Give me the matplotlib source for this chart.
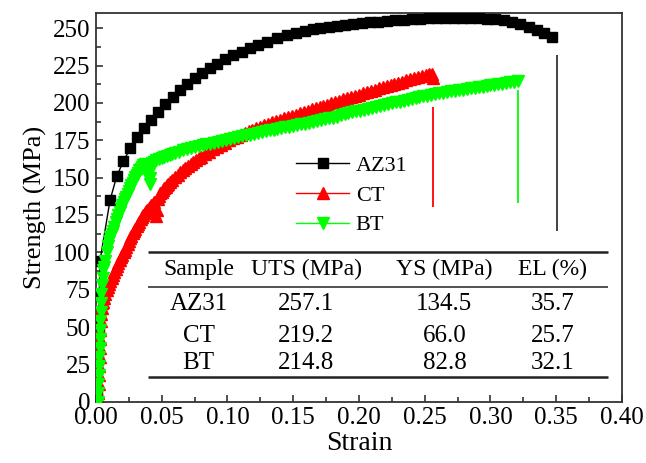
import matplotlib
matplotlib.use("Agg")
import matplotlib.pyplot as plt

plt.rcParams["font.family"] = ["Liberation Serif", "DejaVu Serif"]

# AZ31 (black squares)
az_strain = [0.0005, 0.001, 0.0015, 0.002, 0.0025, 0.003, 0.0107, 0.0158, 0.0208, 0.026,
             0.0314, 0.0365, 0.0416, 0.0474, 0.0525, 0.0584, 0.064, 0.069, 0.0753, 0.0804,
             0.0868, 0.0918, 0.0982, 0.1045, 0.111, 0.117, 0.1235, 0.13, 0.1375, 0.145,
             0.152, 0.159, 0.165, 0.1705, 0.177, 0.183, 0.1895, 0.1958, 0.202, 0.208,
             0.2145, 0.2212, 0.2275, 0.234, 0.240, 0.2466, 0.253, 0.259, 0.2655, 0.272,
             0.278, 0.2845, 0.291, 0.2973, 0.3035, 0.31, 0.316, 0.3227, 0.329, 0.3354,
             0.341, 0.3468]
az_stress = [2, 8, 28, 50, 72, 94, 135, 151, 161, 169.5,
             177, 183, 188.6, 194, 199.5, 203.8, 208.5, 212.5, 216.5, 219.9,
             223.2, 226.3, 229.2, 232, 234.3, 236.6, 238.8, 241, 243.3, 245.5,
             247, 248.2, 249.2, 250, 250.8, 251.5, 252.1, 252.7, 253.3, 253.9,
             254.4, 254.9, 255.3, 255.7, 256.1, 256.4, 256.6, 256.8, 256.9, 257.0,
             257.0, 256.9, 256.7, 256.4, 256.0, 255.3, 254.2, 252.7, 251, 248.8,
             246.5, 244]

# CT (red up-triangles)
ct_strain = [0.0012, 0.0016, 0.0020, 0.0023, 0.0026, 0.0028, 0.0030, 0.0032, 0.0034, 0.0036,
             0.0039, 0.0042, 0.0046, 0.005, 0.006, 0.007, 0.008, 0.009, 0.010, 0.011,
             0.012, 0.013, 0.014, 0.015, 0.016, 0.017, 0.018, 0.019, 0.020, 0.021,
             0.022, 0.023, 0.024, 0.025, 0.026, 0.027, 0.028, 0.029, 0.030, 0.031,
             0.032, 0.033, 0.034, 0.035, 0.036, 0.037, 0.038, 0.039, 0.040, 0.041,
             0.042, 0.043, 0.044, 0.0448, 0.0455, 0.0462, 0.047, 0.048, 0.049, 0.050,
             0.051, 0.052, 0.053, 0.054, 0.055, 0.056, 0.058, 0.060, 0.062, 0.064,
             0.066, 0.068, 0.070, 0.072, 0.074, 0.076, 0.078, 0.080, 0.083, 0.086,
             0.089, 0.092, 0.095, 0.098, 0.101, 0.104, 0.107, 0.110, 0.113, 0.116,
             0.119, 0.122, 0.125, 0.128, 0.131, 0.134, 0.137, 0.140, 0.143, 0.146,
             0.149, 0.152, 0.155, 0.158, 0.161, 0.164, 0.167, 0.170, 0.173, 0.176,
             0.179, 0.182, 0.185, 0.188, 0.191, 0.194, 0.197, 0.200, 0.203, 0.206,
             0.209, 0.212, 0.215, 0.218, 0.221, 0.224, 0.227, 0.230, 0.233, 0.236,
             0.239, 0.242, 0.245, 0.248, 0.251, 0.2535, 0.2555, 0.2565]
ct_stress = [0, 6, 12, 18, 24, 30, 36, 42, 48, 54,
             59, 63, 66, 67, 69.5, 72, 74.5, 77, 79, 81,
             83, 85, 87, 89, 91, 93, 95, 97, 98.5, 100,
             101.6, 103.5, 105.5, 107.5, 109.3, 111, 112.7, 114.3, 115.9, 117.4,
             119, 120.5, 122, 123.5, 125, 126.5, 127.5, 128.5, 129.5, 130.5,
             131.5, 132.5, 133.5, 129, 124, 128, 135.5, 138, 139.5, 140.7,
             141.8, 143, 144, 145, 146, 147, 148.7, 150.4, 152, 153.5,
             155, 156.4, 157.7, 159, 160.3, 161.6, 162.8, 164, 165.7, 167.4,
             169, 170.5, 172, 173.4, 174.9, 176.3, 177.5, 178.7, 179.8, 180.9,
             182, 183.1, 184.1, 185.1, 186.2, 187.1, 188, 188.9, 189.8, 190.6,
             191.4, 192.2, 193, 193.9, 194.8, 195.7, 196.5, 197.3, 198.1, 198.9,
             199.8, 200.7, 201.6, 202.4, 203.2, 204, 204.8, 205.6, 206.4, 207.2,
             208, 208.9, 209.7, 210.5, 211.3, 212.1, 212.8, 213.5, 214.3, 215.1,
             215.9, 216.7, 217.5, 218.2, 218.9, 219.3, 219.2, 217]

# BT (green down-triangles)
bt_strain = [0.0012, 0.0016, 0.0019, 0.0022, 0.0024, 0.0026, 0.0028, 0.0030, 0.0032, 0.0034,
             0.0036, 0.0038, 0.0041, 0.0045, 0.0050, 0.0056, 0.006, 0.007, 0.008, 0.009,
             0.010, 0.011, 0.012, 0.013, 0.014, 0.015, 0.016, 0.017, 0.018, 0.019,
             0.020, 0.021, 0.022, 0.023, 0.024, 0.025, 0.026, 0.027, 0.028, 0.029,
             0.030, 0.031, 0.032, 0.033, 0.034, 0.035, 0.036, 0.037, 0.038, 0.039,
             0.040, 0.0407, 0.0414, 0.042, 0.0428, 0.044, 0.046, 0.048, 0.050, 0.052,
             0.054, 0.056, 0.058, 0.060, 0.063, 0.066, 0.069, 0.072, 0.075, 0.078,
             0.081, 0.084, 0.087, 0.090, 0.093, 0.096, 0.099, 0.102, 0.105, 0.108,
             0.111, 0.114, 0.117, 0.120, 0.123, 0.126, 0.129, 0.132, 0.135, 0.138,
             0.141, 0.144, 0.147, 0.150, 0.153, 0.156, 0.159, 0.162, 0.165, 0.168,
             0.171, 0.174, 0.177, 0.180, 0.183, 0.186, 0.189, 0.192, 0.195, 0.198,
             0.201, 0.204, 0.207, 0.210, 0.213, 0.216, 0.219, 0.222, 0.225, 0.228,
             0.231, 0.234, 0.237, 0.240, 0.243, 0.246, 0.249, 0.252, 0.255, 0.258,
             0.261, 0.264, 0.267, 0.270, 0.273, 0.276, 0.279, 0.282, 0.285, 0.288,
             0.291, 0.294, 0.297, 0.300, 0.303, 0.306, 0.309, 0.312, 0.315, 0.318,
             0.321]
bt_stress = [0, 6, 12, 18, 24, 30, 36, 42, 48, 54,
             60, 66, 72, 78, 83, 88, 90, 94.5, 100.5, 104.5,
             107.5, 110, 112, 114.3, 117.2, 120, 122.5, 124.8, 127.2, 129.6,
             132, 133.8, 135.5, 137.2, 139, 141, 142.9, 144.8, 146.6, 148.4,
             150.1, 151.8, 153.4, 154.8, 156, 157.2, 158.3, 158.8, 158.3, 154.5,
             149, 145.5, 150, 155.5, 159.5, 160.5, 161.5, 162.4, 163.2, 164,
             164.8, 165.4, 166, 166.6, 167.4, 168.2, 169, 169.7, 170.4, 171,
             171.6, 172.2, 172.8, 173.4, 174, 174.6, 175.2, 175.8, 176.4, 177,
             177.6, 178.2, 178.8, 179.4, 179.9, 180.5, 181.1, 181.6, 182.2, 182.7,
             183.2, 183.7, 184.2, 184.7, 185.2, 185.7, 186.2, 186.7, 187.2, 187.8,
             188.4, 189, 189.6, 190.2, 190.9, 191.6, 192.3, 193, 193.7, 194.3,
             194.9, 195.5, 196.1, 196.7, 197.3, 197.9, 198.5, 199.1, 199.7, 200.3,
             200.9, 201.5, 202.1, 202.7, 203.3, 203.9, 204.4, 204.9, 205.4, 205.9,
             206.4, 206.9, 207.3, 207.7, 208.1, 208.5, 208.9, 209.3, 209.7, 210.1,
             210.5, 210.9, 211.3, 211.7, 212.1, 212.5, 212.9, 213.3, 213.7, 214.1,
             214.5]

# fracture markers (vertical lines)
frac_strain = [0.3508, 0.2565, 0.3211]
frac_top = [232.1, 197.3, 208.7]
frac_bottom = [114.3, 130.4, 133.0]
frac_colors = ["#333333", "#ff0000", "#00ff00"]

# table
table_header = ["Sample", "UTS (MPa)", "YS (MPa)", "EL (%)"]
table_samples = ["AZ31", "CT", "BT"]
table_uts = ["257.1", "219.2", "214.8"]
table_ys = ["134.5", "66.0", "82.8"]
table_el = ["35.7", "25.7", "32.1"]

fig = plt.figure(figsize=(6.46, 4.63), dpi=100)
ax = fig.add_axes([0.1486, 0.1324, 0.8142, 0.8389])

ax.plot(az_strain, az_stress, "-s", color="black", ms=7.6, lw=1, label="AZ31", zorder=3)
ax.plot(ct_strain, ct_stress, "-^", color="#ff0000", ms=8, lw=1, label="CT", zorder=4)
ax.plot(bt_strain, bt_stress, "-v", color="#00ff00", ms=8, lw=1, label="BT", zorder=5)

for xs, y0, y1, c in zip(frac_strain, frac_bottom, frac_top, frac_colors):
    ax.vlines(xs, y0, y1, color=c, lw=1.3, zorder=2)

ax.set_xlim(0, 0.40)
ax.set_ylim(0, 260)
ax.set_xticks([0.00, 0.05, 0.10, 0.15, 0.20, 0.25, 0.30, 0.35, 0.40])
ax.set_xticks([0.025, 0.075, 0.125, 0.175, 0.225, 0.275, 0.325, 0.375], minor=True)
ax.set_yticks(list(range(0, 251, 25)))
ax.set_yticks([12.5 + 25 * i for i in range(10)], minor=True)
ax.xaxis.set_major_formatter(matplotlib.ticker.FormatStrFormatter("%.2f"))
ax.tick_params(which="both", direction="in", top=False, right=False, labelsize=18,
               color="#333333", width=1.2)
ax.tick_params(which="major", length=5, pad=4)
ax.tick_params(which="minor", length=3.5)
for s in ax.spines.values():
    s.set_linewidth(1.3)
    s.set_color("#333333")

ax.set_xlabel("Strain", fontsize=20, labelpad=1)
ax.set_ylabel("Strength (MPa)", fontsize=19, labelpad=4)

leg = ax.legend(loc="upper left", bbox_to_anchor=(0.38, 0.635), frameon=False, fontsize=16,
                numpoints=1, handlelength=2.4, handletextpad=0.3, labelspacing=0.42,
                borderpad=0, borderaxespad=0)

# table drawn in data coordinates
tx0, tx1 = 0.0396, 0.389
ax.hlines([100.0, 16.5], tx0, tx1, color="#222222", lw=1.8, zorder=6)
ax.hlines([76.8], tx0, tx1, color="#222222", lw=1.1, zorder=6)
col_x = [0.078, 0.160, 0.265, 0.347]
header_y = 88.2
row_y = [65.4, 44.0, 25.9]
for cx, h in zip(col_x, table_header):
    ax.text(cx, header_y, h, ha="center", va="center", fontsize=17, zorder=7)
for i, yy in enumerate(row_y):
    for cx, v in zip(col_x, [table_samples[i], table_uts[i], table_ys[i], table_el[i]]):
        ax.text(cx, yy, v, ha="center", va="center", fontsize=18, zorder=7)

fig.savefig("out.png", dpi=100)
